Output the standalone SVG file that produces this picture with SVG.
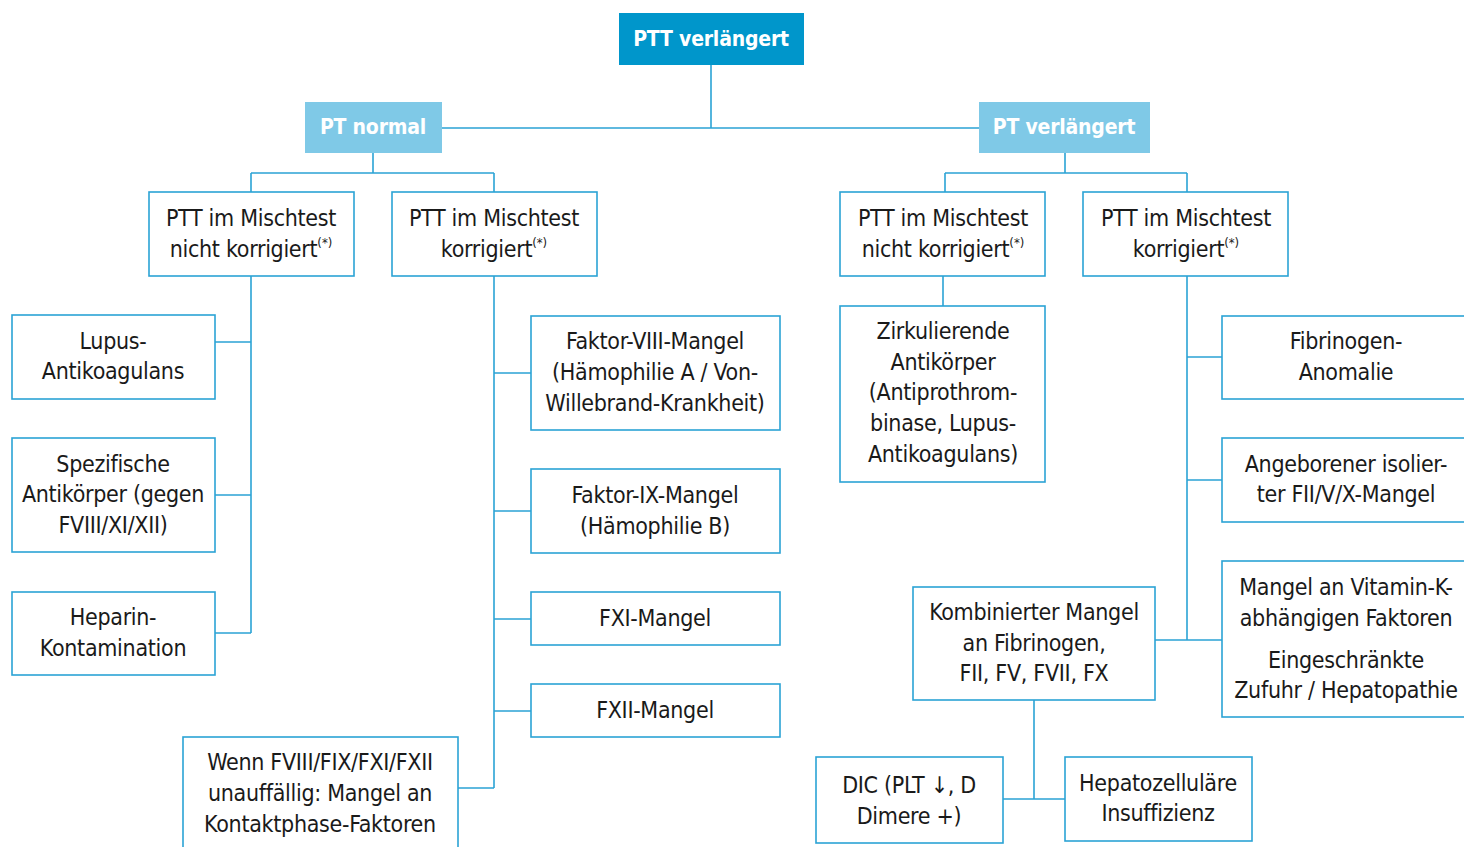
<svg xmlns="http://www.w3.org/2000/svg" width="1464" height="847" viewBox="0 0 1464 847">
<style>
.bx{fill:#fff;stroke:#2BA3D5;stroke-width:1.6}
.c{fill:none;stroke:#2BA3D5;stroke-width:1.6}
.t{font-family:"Liberation Sans Narrow","DejaVu Sans Condensed","Roboto Condensed","Liberation Sans",sans-serif;font-size:23px;letter-spacing:-0.3px;fill:#1a1a1a;text-anchor:middle}
.h{font-family:"Liberation Sans Narrow","DejaVu Sans Condensed","Liberation Sans",sans-serif;font-size:21px;letter-spacing:-0.2px;font-weight:bold;fill:#fff;text-anchor:middle}
.s{font-size:13px;letter-spacing:0}
</style>
<rect width="1464" height="847" fill="#fff"/>
<g id="connectors">
<path class="c" d="M711 65V128M442 128H979"/>
<path class="c" d="M373 153V173M251 173H494M251 173V192M494 173V192"/>
<path class="c" d="M1065 153V173M945 173H1187M945 173V192M1187 173V192"/>
<path class="c" d="M251 276V633M215 342H251M215 495H251M215 633H251"/>
<path class="c" d="M494 276V788M494 373H531M494 511H531M494 619H531M494 711H531M458 788H494"/>
<path class="c" d="M943 276V306"/>
<path class="c" d="M1187 276V640M1187 357H1222M1187 480H1222M1155 640H1222"/>
<path class="c" d="M1034 700V799M1003 799H1065"/>
</g>
<g id="n-ptt"><rect x="619" y="13" width="185" height="52" fill="#0096CB"/><text class="h" x="711" y="46">PTT verlängert</text></g>
<g id="n-ptnormal"><rect x="305" y="102" width="137" height="51" fill="#7FC9E7"/><text class="h" x="373" y="134">PT normal</text></g>
<g id="n-ptverl"><rect x="979" y="102" width="171" height="51" fill="#7FC9E7"/><text class="h" x="1064" y="134">PT verlängert</text></g>
<g id="n-a1"><rect class="bx" x="149" y="192" width="205" height="84"/><text class="t" x="251" y="226">PTT im Mischtest</text><text class="t" x="251" y="257">nicht korrigiert<tspan class="s" dy="-10">(*)</tspan></text></g>
<g id="n-a2"><rect class="bx" x="392" y="192" width="205" height="84"/><text class="t" x="494" y="226">PTT im Mischtest</text><text class="t" x="494" y="257">korrigiert<tspan class="s" dy="-10">(*)</tspan></text></g>
<g id="n-b1"><rect class="bx" x="840" y="192" width="205" height="84"/><text class="t" x="943" y="226">PTT im Mischtest</text><text class="t" x="943" y="257">nicht korrigiert<tspan class="s" dy="-10">(*)</tspan></text></g>
<g id="n-b2"><rect class="bx" x="1083" y="192" width="205" height="84"/><text class="t" x="1186" y="226">PTT im Mischtest</text><text class="t" x="1186" y="257">korrigiert<tspan class="s" dy="-10">(*)</tspan></text></g>
<g id="n-lupus"><rect class="bx" x="12" y="315" width="203" height="84"/><text class="t" x="113" y="349">Lupus-</text><text class="t" x="113" y="379">Antikoagulans</text></g>
<g id="n-spez"><rect class="bx" x="12" y="438" width="203" height="114"/><text class="t" x="113" y="472">Spezifische</text><text class="t" x="113" y="502">Antikörper (gegen</text><text class="t" x="113" y="533">FVIII/XI/XII)</text></g>
<g id="n-hep"><rect class="bx" x="12" y="592" width="203" height="83"/><text class="t" x="113" y="625">Heparin-</text><text class="t" x="113" y="656">Kontamination</text></g>
<g id="n-f8"><rect class="bx" x="531" y="316" width="249" height="114"/><text class="t" x="655" y="349">Faktor-VIII-Mangel</text><text class="t" x="655" y="380">(Hämophilie A / Von-</text><text class="t" x="655" y="411">Willebrand-Krankheit)</text></g>
<g id="n-f9"><rect class="bx" x="531" y="469" width="249" height="84"/><text class="t" x="655" y="503">Faktor-IX-Mangel</text><text class="t" x="655" y="534">(Hämophilie B)</text></g>
<g id="n-f11"><rect class="bx" x="531" y="592" width="249" height="53"/><text class="t" x="655" y="626">FXI-Mangel</text></g>
<g id="n-f12"><rect class="bx" x="531" y="684" width="249" height="53"/><text class="t" x="655" y="718">FXII-Mangel</text></g>
<g id="n-wenn"><rect class="bx" x="183" y="737" width="275" height="115"/><text class="t" x="320" y="770">Wenn FVIII/FIX/FXI/FXII</text><text class="t" x="320" y="801">unauffällig: Mangel an</text><text class="t" x="320" y="832">Kontaktphase-Faktoren</text></g>
<g id="n-zirk"><rect class="bx" x="840" y="306" width="205" height="176"/><text class="t" x="943" y="339">Zirkulierende</text><text class="t" x="943" y="370">Antikörper</text><text class="t" x="943" y="400">(Antiprothrom-</text><text class="t" x="943" y="431">binase, Lupus-</text><text class="t" x="943" y="462">Antikoagulans)</text></g>
<g id="n-fibr"><rect class="bx" x="1222" y="316" width="250" height="83"/><text class="t" x="1346" y="349">Fibrinogen-</text><text class="t" x="1346" y="380">Anomalie</text></g>
<g id="n-ang"><rect class="bx" x="1222" y="438" width="250" height="84"/><text class="t" x="1346" y="472">Angeborener isolier-</text><text class="t" x="1346" y="502">ter FII/V/X-Mangel</text></g>
<g id="n-vitk"><rect class="bx" x="1222" y="561" width="250" height="156"/><text class="t" x="1346" y="595">Mangel an Vitamin-K-</text><text class="t" x="1346" y="626">abhängigen Faktoren</text><text class="t" x="1346" y="668">Eingeschränkte</text><text class="t" x="1346" y="698">Zufuhr / Hepatopathie</text></g>
<g id="n-komb"><rect class="bx" x="913" y="587" width="242" height="113"/><text class="t" x="1034" y="620">Kombinierter Mangel</text><text class="t" x="1034" y="651">an Fibrinogen,</text><text class="t" x="1034" y="681">FII, FV, FVII, FX</text></g>
<g id="n-dic"><rect class="bx" x="816" y="757" width="187" height="86"/><text class="t" x="909" y="793">DIC (PLT ↓, D</text><text class="t" x="909" y="824">Dimere +)</text></g>
<g id="n-hepato"><rect class="bx" x="1065" y="757" width="187" height="84"/><text class="t" x="1158" y="791">Hepatozelluläre</text><text class="t" x="1158" y="821">Insuffizienz</text></g>
</svg>
